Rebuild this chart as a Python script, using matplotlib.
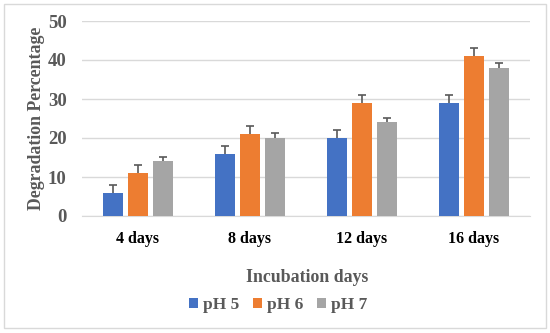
import numpy as np
import matplotlib
matplotlib.use("Agg")
import matplotlib.pyplot as plt
from matplotlib.patches import Rectangle

categories = ["4 days", "8 days", "12 days", "16 days"]
series_names = ["pH 5", "pH 6", "pH 7"]
ph5 = [6, 16, 20, 29]
ph6 = [11, 21, 29, 41]
ph7 = [14, 20, 24, 38]
ph5_err = [2.0, 1.9, 2.0, 1.9]
ph6_err = [2.1, 2.2, 2.1, 2.2]
ph7_err = [1.2, 1.2, 1.2, 1.3]

colors = ["#4472C4", "#ED7D31", "#A5A5A5"]
gray_text = "#595959"
serif = ["Liberation Serif", "DejaVu Serif"]

fig = plt.figure(figsize=(5.5, 3.33), dpi=100)
ax = fig.add_axes([82 / 550, 1 - 216 / 333, 448 / 550, 195 / 333])

# outer chart border
fig.patches.append(Rectangle((4 / 550, 1 - 328 / 333), 542 / 550, 324 / 333,
                             transform=fig.transFigure, fill=False,
                             edgecolor="#D9D9D9", linewidth=1.0))

x = np.arange(len(categories))
w = 0.175
pitch = 0.224
cap = 0.035
for i, (vals, errs) in enumerate(zip([ph5, ph6, ph7], [ph5_err, ph6_err, ph7_err])):
    pos = x + (i - 1) * pitch
    vals = np.array(vals)
    tops = vals + np.array(errs)
    ax.bar(pos, vals, width=w, color=colors[i], label=series_names[i], zorder=3)
    # plus-only error bars, cap on top only
    ax.vlines(pos, vals, tops, color=gray_text, linewidth=1.2, zorder=4)
    ax.hlines(tops, pos - cap, pos + cap, color=gray_text, linewidth=1.2, zorder=4)

ax.set_xlim(-0.5, len(categories) - 0.5)
ax.set_ylim(0, 50)
ax.set_yticks(range(0, 51, 10))
ax.grid(axis="y", color="#D9D9D9", linewidth=1.0, zorder=0)
for s in ["top", "right", "left"]:
    ax.spines[s].set_visible(False)
ax.spines["bottom"].set_color("#D9D9D9")
ax.tick_params(axis="both", length=0)
ax.tick_params(axis="y", pad=11)
ax.tick_params(axis="x", pad=11)

ax.set_xticks(x)
ax.set_xticklabels(categories, fontfamily=serif, fontweight="bold", fontsize=11.5, color="black")
for lbl in ax.get_yticklabels():
    lbl.set_fontfamily(serif)
    lbl.set_fontweight("bold")
    lbl.set_fontsize(13.5)
    lbl.set_color(gray_text)

ax.set_ylabel("Degradation Percentage", fontfamily=serif, fontweight="bold",
              fontsize=12.8, color=gray_text)
ax.yaxis.set_label_coords(-0.083, 0.5)
fig.text(307 / 550, 1 - 277 / 333, "Incubation days", ha="center", va="center",
         fontfamily=serif, fontweight="bold", fontsize=12.8, color=gray_text)

handles, labels = ax.get_legend_handles_labels()
leg = fig.legend(handles, labels, loc="center", bbox_to_anchor=(278 / 550, 1 - 305 / 333),
                 ncol=3, frameon=False, handlelength=0.5, handleheight=0.5,
                 handletextpad=0.3, columnspacing=0.8,
                 prop={"family": serif, "weight": "bold", "size": 12.5})
for t in leg.get_texts():
    t.set_color(gray_text)

fig.savefig("out.png", dpi=100)
